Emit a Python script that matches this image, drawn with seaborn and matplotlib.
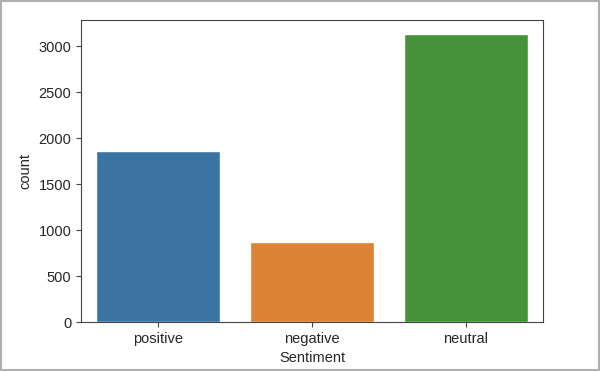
import pandas as pd
import matplotlib.pyplot as plt
import seaborn as sns

# Sentiment counts
sentiments = ['positive', 'negative', 'neutral']
counts = [1865, 872, 3132]
bar_colors = ['#3b74a2', '#dc8234', '#46923b']

sns.set_style('ticks')
plt.rcParams['font.family'] = ['Liberation Sans', 'DejaVu Sans']
plt.rcParams['axes.edgecolor'] = '#444444'

df = pd.DataFrame({'Sentiment': sentiments, 'count': counts})

fig = plt.figure(figsize=(6, 3.71), dpi=100)
ax = fig.add_axes([0.135, 0.132, 0.77, 0.815])
sns.barplot(data=df, x='Sentiment', y='count', hue='Sentiment', palette=bar_colors,
            saturation=1, width=0.8, legend=False, ax=ax)
ax.set_ylim(0, 3290)
ax.tick_params(labelsize=10.5, length=3.5, color='#444444')
ax.set_xlabel('Sentiment', fontsize=10.5)
ax.set_ylabel('count', fontsize=10.5)

# light grey frame round the picture
fig.patches.append(plt.Rectangle((0.002, 0.003), 0.996, 0.994, transform=fig.transFigure,
                                 fill=False, edgecolor='#b0b0b0', linewidth=1.5))
fig.savefig('out.png', dpi=100)
